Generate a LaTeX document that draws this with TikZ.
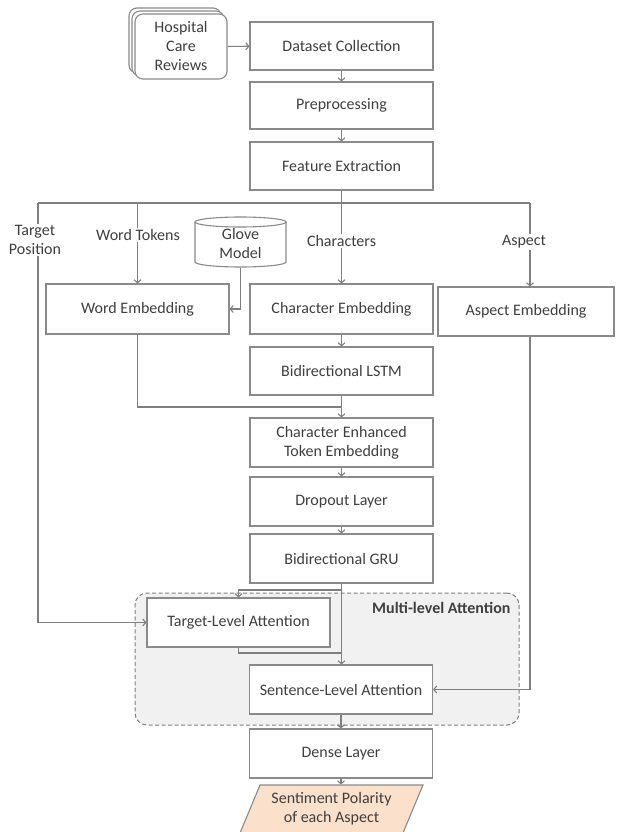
\documentclass[tikz,border=0pt]{standalone}
\usepackage{fontspec}
\setmainfont{Carlito}
\usetikzlibrary{arrows.meta,shapes.geometric}
\definecolor{linec}{HTML}{7F7F7F}
\definecolor{boxc}{HTML}{8A8A8A}
\definecolor{txtc}{HTML}{3F3F3F}
\definecolor{regfill}{HTML}{F1F1F1}
\definecolor{polfill}{HTML}{FBE0CC}
\begin{document}
\begin{tikzpicture}[x=1pt,y=-1pt,
  font=\fontsize{16}{19}\selectfont,
  bx/.style={draw=boxc, fill=white, line width=1.1pt, minimum width=183pt, minimum height=49pt, text=txtc, align=center, inner sep=2pt},
  ln/.style={draw=linec, line width=1.1pt},
  arr/.style={draw=linec, line width=1.1pt, -{Straight Barb[length=3pt,width=7pt]}},
  lbl/.style={fill=white, text=txtc, align=center, inner sep=1.5pt}]
\useasboundingbox (0,0) rectangle (616,832);
\fill[white] (0,0) rectangle (616,832);

% multi-level attention region
\node[draw=linec, fill=regfill, dashed, dash pattern=on 4pt off 2.5pt, line width=1pt, rounded corners=12pt, minimum width=384pt, minimum height=132pt] (mla) at (327,659) {};
\node[anchor=east, font=\fontsize{16}{19}\selectfont\bfseries, text=txtc] (mlat) at (514,608) {Multi-level Attention};

% hospital care reviews (stacked documents)
\draw[draw=boxc, fill=white, line width=1.1pt, rounded corners=8pt] (129,8) rectangle (221,73);
\draw[draw=boxc, fill=white, line width=1.1pt, rounded corners=8pt] (132,11) rectangle (224,76);
\node[bx, rounded corners=8pt, minimum width=92pt, minimum height=65pt] (hcr) at (181,46.5) {Hospital\\Care\\Reviews};

% main column
\node[bx, minimum height=48pt] (ds) at (341.5,46) {Dataset Collection};
\node[bx, minimum height=47pt] (pre) at (341.5,105.5) {Preprocessing};
\node[bx, minimum height=48pt] (fe) at (341.5,166) {Feature Extraction};

\node[bx, minimum height=50pt] (we) at (137.5,309) {Word Embedding};
\node[bx, minimum height=50pt] (ce) at (341.5,309) {Character Embedding};
\node[bx, minimum width=176pt, minimum height=49pt] (ae) at (526,311.5) {Aspect Embedding};

\node[bx, minimum height=48pt] (lstm) at (341.5,371) {Bidirectional LSTM};
\node[bx] (cete) at (341.5,442.5) {Character Enhanced\\Token Embedding};
\node[bx] (drop) at (341.5,501.5) {Dropout Layer};
\node[bx] (gru) at (341.5,558.5) {Bidirectional GRU};
\node[bx] (tla) at (238.5,622.5) {Target-Level Attention};
\node[bx] (sla) at (341,689.5) {Sentence-Level Attention};
\node[bx] (dense) at (341,753.5) {Dense Layer};
\node[trapezium, trapezium left angle=60, trapezium right angle=120, trapezium stretches body, draw=boxc, fill=polfill, line width=1.1pt, minimum width=183pt, minimum height=48pt, text=txtc, align=center, inner sep=1pt] (pol) at (331.5,809) {Sentiment Polarity\\of each Aspect};

% glove model cylinder
\draw[draw=boxc, fill=white, line width=1.1pt] (195,222) -- (195,262) arc[start angle=180,end angle=360,x radius=45.5pt,y radius=5pt] -- (286,222);
\draw[draw=boxc, fill=white, line width=1.1pt] (240.5,222) ellipse [x radius=45.5pt, y radius=5pt];
\node[text=txtc, align=center, minimum width=91pt, minimum height=49pt, inner sep=0pt] (glove) at (240.5,243) {Glove\\Model};

% junction coordinates
\coordinate (jl) at (38,203);
\coordinate (jw) at (137.5,203);
\coordinate (jc) at (341.5,203);
\coordinate (jr) at (530,203);
\coordinate (jm) at (341.5,407);
\coordinate (jg) at (341.5,590);
\coordinate (jt) at (341.5,653);

% connectors
\draw[arr] (hcr) -- (ds);
\draw[arr] (ds) -- (pre);
\draw[arr] (pre) -- (fe);
\draw[ln] (fe.south) -- (jc);
\draw[ln] (jl) -- (jr);
\draw[arr] (jl) |- (tla.west);
\draw[arr] (jw) -- (we.north);
\draw[arr] (jc) -- (ce.north);
\draw[arr] (jr) -- (jr |- ae.north);
\draw[arr] (glove.south) |- (we.east);
\draw[arr] (ce) -- (lstm);
\draw[ln] (we.south) |- (jm);
\draw[arr] (lstm) -- (cete);
\draw[arr] (cete) -- (drop);
\draw[arr] (drop) -- (gru);
\draw[arr] (gru.south) -- (sla.north -| gru.south);
\draw[arr] (jg) -| (tla.north);
\draw[ln] (tla.south) |- (jt);
\draw[arr] (jr |- ae.south) |- (sla.east);
\draw[arr] (sla) -- (dense);
\draw[arr] (dense.south) -- (dense.south |- pol.north);

% branch labels
\node[lbl] (ltp) at (35,240) {Target\\Position};
\node[lbl] (lwt) at (138,235) {Word Tokens};
\node[lbl] (lch) at (341.5,241) {Characters};
\node[lbl] (las) at (524,242) {Aspect};
\end{tikzpicture}
\end{document}
